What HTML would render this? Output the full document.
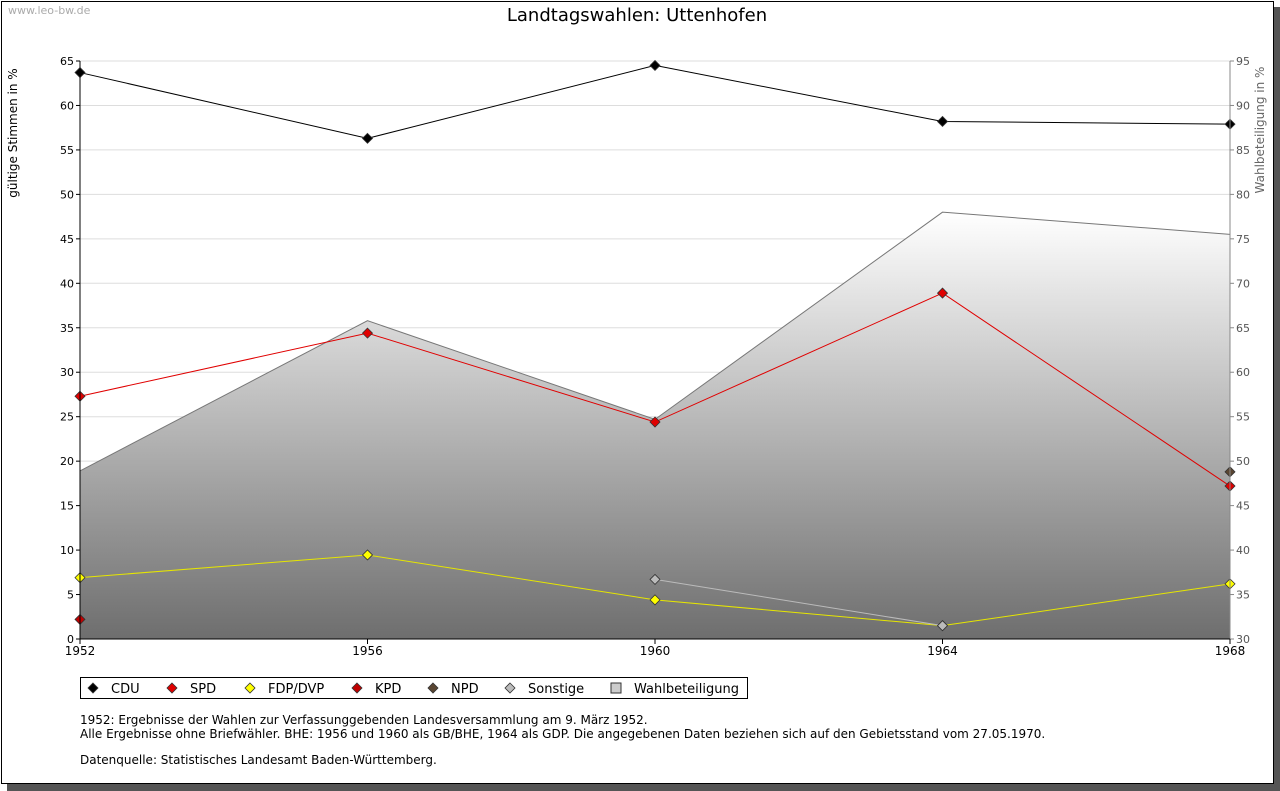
<!DOCTYPE html>
<html><head><meta charset="utf-8"><style>
body{margin:0;width:1280px;height:791px;background:#fff;font-family:"DejaVu Sans","Liberation Sans",sans-serif;overflow:hidden}
svg{display:block}
</style></head><body>
<svg width="1280" height="791" xmlns="http://www.w3.org/2000/svg" id="chart" font-family="DejaVu Sans, Liberation Sans, sans-serif">
<defs><linearGradient id="g" x1="0" y1="0" x2="0" y2="1"><stop offset="0" stop-color="#ffffff"/><stop offset="1" stop-color="#6e6e6e"/></linearGradient></defs>
<rect x="7" y="7" width="1273" height="784" fill="#555"/>
<rect x="1.5" y="1.5" width="1272" height="782" fill="#fff" stroke="#000"/>
<text x="8" y="14" font-size="11" fill="#aaa">www.leo-bw.de</text>
<text x="637" y="21" font-size="18" text-anchor="middle">Landtagswahlen: Uttenhofen</text>
<text transform="translate(17,133) rotate(-90)" font-size="12" text-anchor="middle">gültige Stimmen in %</text>
<text transform="translate(1264,130) rotate(-90)" font-size="12" fill="#666" text-anchor="middle">Wahlbeteiligung in %</text>
<g id="grid"></g><g id="area"></g><g id="lines"></g><g id="axes"></g>
<g>
<rect x="80.5" y="677.5" width="667" height="21" fill="#fff" stroke="#000"/>
<g id="legend"></g>
</g>
<g font-size="12">
<text x="80" y="724">1952: Ergebnisse der Wahlen zur Verfassunggebenden Landesversammlung am 9. März 1952.</text>
<text x="80" y="738">Alle Ergebnisse ohne Briefwähler. BHE: 1956 und 1960 als GB/BHE, 1964 als GDP. Die angegebenen Daten beziehen sich auf den Gebietsstand vom 27.05.1970.</text>
<text x="80" y="764">Datenquelle: Statistisches Landesamt Baden-Württemberg.</text>
</g>
</svg>
<script>
const years=[1952,1956,1960,1964,1968];
const cdu=[63.7,56.3,64.5,58.2,57.9];
const spd=[27.3,34.4,24.4,38.9,17.2];
const fdp=[6.9,9.45,4.4,1.5,6.2];
const kpd=[2.2,null,null,null,null];
const npd=[null,null,null,null,18.8];
const sonst=[null,null,6.7,1.5,null];
const wahl=[48.9,65.8,54.7,78.0,75.5];
const leftTicks=[0,5,10,15,20,25,30,35,40,45,50,55,60,65];
const rightTicks=[30,35,40,45,50,55,60,65,70,75,80,85,90,95];
const NS="http://www.w3.org/2000/svg";
const X0=80,X1=1230,Y0=639,Y1=61;
const xs=v=>X0+(v-1952)/(1968-1952)*(X1-X0);
const yl=v=>Y0-v/65*(Y0-Y1);
const yr=v=>Y0-(v-30)/65*(Y0-Y1);
function mk(t,a,p){const e=document.createElementNS(NS,t);for(const k in a)e.setAttribute(k,a[k]);document.getElementById(p).appendChild(e);return e;}
function dia(x,y,s){return (x)+','+(y-s)+' '+(x+s)+','+y+' '+x+','+(y+s)+' '+(x-s)+','+y;}
leftTicks.forEach((t,i)=>{
 const l=mk('line',{x1:X0,x2:X1,y1:yl(t),y2:yl(t),stroke:'#ddd'},'grid');
 
 
 const a=mk('text',{x:X0-6,y:yl(t)+4,'font-size':11,'text-anchor':'end'},'axes');a.textContent=t;
 
 
 mk('line',{x1:X0-4,x2:X0,y1:yl(t),y2:yl(t),stroke:'#000'},'axes');
 const r=mk('text',{x:X1+6,y:yr(rightTicks[i])+4,'font-size':11,fill:'#555'},'axes');r.textContent=rightTicks[i];
 
 
 mk('line',{x1:X1,x2:X1+4,y1:yr(rightTicks[i]),y2:yr(rightTicks[i]),stroke:'#888'},'axes');
});
let pts=years.map((y,i)=>xs(y)+','+yr(wahl[i])).join(' ');
const ar=mk('polygon',{points:X0+','+Y0+' '+pts+' '+X1+','+Y0,fill:'url(#g)'},'area');


const al=mk('polyline',{points:pts,fill:'none',stroke:'#777'},'area');


mk('line',{x1:X0,x2:X0,y1:Y1,y2:Y0,stroke:'#000'},'axes');
mk('line',{x1:X1,x2:X1,y1:Y1,y2:Y0,stroke:'#888'},'axes');
mk('line',{x1:X0,x2:X1,y1:Y0,y2:Y0,stroke:'#000'},'axes');
years.forEach(y=>{
 mk('line',{x1:xs(y),x2:xs(y),y1:Y0,y2:Y0+5,stroke:'#000'},'axes');
 const t=mk('text',{x:xs(y),y:Y0+16,'font-size':12,'text-anchor':'middle'},'axes');t.textContent=y;
 
 
});
const series=[['cdu',cdu,'#000','#000'],['spd',spd,'#e00000','#e00000'],['fdp',fdp,'#e6e600','#ffff00'],['kpd',kpd,'#a00000','#c00000'],['npd',npd,'#4a3a2a','#5a4632'],['sonstige',sonst,'#bbb','#bbb']];
series.forEach(([n,d,lc,fc])=>{
 let seg=[];
 d.forEach((v,i)=>{if(v!=null)seg.push(xs(years[i])+','+yl(v));});
 if(seg.length>1){const p=mk('polyline',{points:seg.join(' '),fill:'none',stroke:lc},'lines');
  
  }
 d.forEach((v,i)=>{if(v==null)return;
  const c=mk('polygon',{points:dia(xs(years[i]),yl(v),5),fill:fc,stroke:'#333','stroke-width':0.8},'lines');
  
  });
});
const legNames=['CDU','SPD','FDP/DVP','KPD','NPD','Sonstige','Wahlbeteiligung'];
const legCols=['#000','#e00000','#ffff00','#c00000','#5a4632','#bbb',null];
const legX=[93,172,250,357,433,510,616];
legNames.forEach((n,i)=>{
 if(legCols[i]){const c=mk('polygon',{points:dia(legX[i],688,5),fill:legCols[i],stroke:'#333','stroke-width':0.8},'legend');
  
  }
 else{const r=mk('rect',{x:legX[i]-5,y:683,width:10,height:10,fill:'#ccc',stroke:'#333'},'legend');
  
  }
 const t=mk('text',{x:legX[i]+18,y:693,'font-size':13},'legend');t.textContent=n;
 
 
});
</script>
</body></html>
